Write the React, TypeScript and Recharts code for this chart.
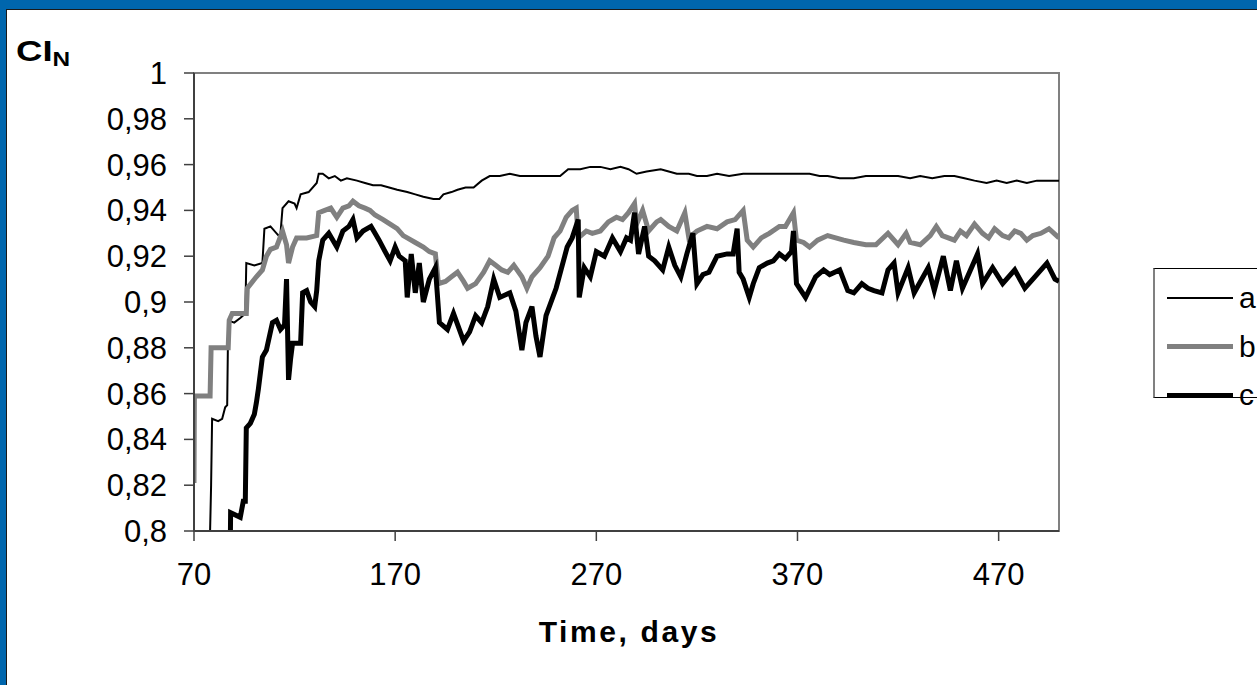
import React from 'react';
import { LineChart, Line, XAxis, YAxis, ReferenceArea } from 'recharts';

// Series a (thin black)
const aDays = [77.5, 78.5, 79, 82, 84, 85.5, 86.5, 87, 90, 93, 95.5, 96, 100, 104, 105, 108, 112, 113, 114, 117, 120, 121, 123, 127, 131, 132, 134, 137, 140, 143, 146, 151, 155, 159, 163, 167, 171, 176, 180, 184, 189, 192, 194, 198, 201, 205, 209, 213, 217, 222, 227, 232, 237, 241, 246, 252, 256, 262, 267, 272, 277, 282, 286, 290, 295, 302, 306, 310, 316, 320, 325, 330, 336, 343, 350, 355, 360, 366, 371, 376, 381, 385, 391, 398, 404, 409, 415, 420, 426, 431, 437, 443, 448, 453, 458, 464, 469, 474, 479, 484, 489, 494, 500];
const aVals = [0.78, 0.82, 0.849, 0.848, 0.849, 0.854, 0.855, 0.892, 0.891, 0.893, 0.895, 0.917, 0.916, 0.917, 0.932, 0.933, 0.929, 0.93, 0.941, 0.944, 0.943, 0.941, 0.947, 0.948, 0.952, 0.956, 0.956, 0.954, 0.955, 0.953, 0.954, 0.953, 0.952, 0.951, 0.951, 0.95, 0.949, 0.948, 0.947, 0.946, 0.945, 0.945, 0.947, 0.948, 0.949, 0.95, 0.95, 0.953, 0.955, 0.955, 0.956, 0.955, 0.955, 0.955, 0.955, 0.955, 0.958, 0.958, 0.959, 0.959, 0.958, 0.959, 0.958, 0.956, 0.957, 0.958, 0.957, 0.956, 0.956, 0.955, 0.955, 0.956, 0.955, 0.956, 0.956, 0.956, 0.956, 0.956, 0.956, 0.956, 0.955, 0.955, 0.954, 0.954, 0.955, 0.955, 0.955, 0.955, 0.954, 0.955, 0.954, 0.955, 0.955, 0.954, 0.953, 0.952, 0.953, 0.952, 0.953, 0.952, 0.953, 0.953, 0.953];

// Series b (thick grey)
const bDays = [70, 70.2, 78, 78.5, 87, 87.5, 89, 96, 96.5, 101, 104, 106, 108, 111, 114, 116, 117, 119, 121, 126, 131, 132, 135, 138, 141, 144, 147, 149, 152, 155, 157.5, 160, 164, 167.5, 171, 174, 176, 180, 184, 187, 190, 191.5, 195, 198, 201, 204, 206, 210, 214, 217, 220, 223, 226, 229, 233, 235.5, 238, 242, 246, 249, 252, 255, 258, 260, 261, 265, 268, 272, 276, 280, 283, 286, 289, 290, 293, 296, 300, 302, 306, 310, 314, 316, 320, 325, 330, 335, 339, 343, 345, 348, 352, 356, 361, 364, 368, 369.5, 373, 376, 380, 385, 389, 393, 398, 404, 409, 415, 420, 424, 426, 431, 436, 439, 442, 448, 451, 454, 458, 462, 465, 468, 472, 475, 478, 481, 484, 487, 491, 495, 500];
const bVals = [0.821, 0.859, 0.859, 0.88, 0.88, 0.892, 0.895, 0.895, 0.906, 0.911, 0.914, 0.92, 0.923, 0.924, 0.931, 0.925, 0.917, 0.924, 0.928, 0.928, 0.929, 0.939, 0.94, 0.941, 0.937, 0.941, 0.942, 0.944, 0.942, 0.941, 0.94, 0.938, 0.936, 0.934, 0.932, 0.929, 0.928, 0.926, 0.924, 0.922, 0.921, 0.908, 0.909, 0.911, 0.913, 0.909, 0.906, 0.908, 0.913, 0.918, 0.916, 0.914, 0.913, 0.916, 0.911, 0.906, 0.911, 0.915, 0.92, 0.928, 0.931, 0.937, 0.94, 0.941, 0.928, 0.931, 0.93, 0.931, 0.935, 0.937, 0.936, 0.939, 0.943, 0.934, 0.94, 0.931, 0.935, 0.936, 0.933, 0.931, 0.939, 0.928, 0.931, 0.933, 0.932, 0.935, 0.936, 0.94, 0.927, 0.924, 0.928, 0.93, 0.933, 0.933, 0.939, 0.927, 0.926, 0.924, 0.927, 0.929, 0.928, 0.927, 0.926, 0.925, 0.925, 0.93, 0.925, 0.93, 0.926, 0.925, 0.929, 0.933, 0.929, 0.927, 0.931, 0.929, 0.934, 0.93, 0.928, 0.932, 0.929, 0.928, 0.931, 0.93, 0.927, 0.929, 0.93, 0.932, 0.928];

// Series c (thick black)
const cDays = [88, 88.2, 93, 94.5, 95.5, 96, 98, 100, 101, 102, 104, 106, 109, 111, 113, 115, 116, 117, 118, 119, 123, 124, 126, 128, 130, 131, 132, 134, 137, 141, 144, 147, 149, 151, 154, 158, 160, 162, 165, 167.5, 170, 172, 175, 176, 178, 180, 182, 184, 187, 190, 192, 196, 199, 204, 207, 210, 213, 216, 219, 222, 227, 230, 233, 235, 238, 240, 242, 245, 250, 255.5, 258, 261, 261.5, 264, 267, 270, 274, 278, 282, 285, 287, 289, 291, 294, 296, 299, 303, 306, 309, 312, 315, 318, 320, 323, 326, 330, 335, 338, 340, 341, 343, 346, 348, 351, 355, 358, 361, 364, 367, 368, 369.5, 374, 379, 383, 386, 391, 395, 398, 402, 405, 408, 412, 415, 418, 420, 425, 428, 435, 438, 442.5, 446, 449, 452, 459.5, 462, 467, 472, 478, 483, 488, 494, 498, 500];
const cVals = [0.79, 0.808, 0.806, 0.813, 0.813, 0.845, 0.847, 0.851, 0.856, 0.862, 0.876, 0.879, 0.891, 0.892, 0.888, 0.89, 0.91, 0.866, 0.875, 0.882, 0.882, 0.904, 0.905, 0.9, 0.898, 0.905, 0.918, 0.927, 0.93, 0.924, 0.931, 0.933, 0.936, 0.928, 0.931, 0.933, 0.93, 0.927, 0.922, 0.918, 0.924, 0.92, 0.918, 0.902, 0.921, 0.904, 0.917, 0.9, 0.91, 0.915, 0.891, 0.888, 0.895, 0.883, 0.887, 0.894, 0.891, 0.898, 0.91, 0.902, 0.904, 0.896, 0.879, 0.891, 0.898, 0.885, 0.876, 0.894, 0.906, 0.924, 0.928, 0.936, 0.902, 0.915, 0.911, 0.922, 0.92, 0.928, 0.922, 0.928, 0.927, 0.939, 0.921, 0.933, 0.92, 0.918, 0.914, 0.924, 0.916, 0.911, 0.921, 0.93, 0.908, 0.912, 0.913, 0.92, 0.921, 0.921, 0.932, 0.913, 0.91, 0.902, 0.908, 0.915, 0.917, 0.918, 0.921, 0.919, 0.922, 0.931, 0.908, 0.902, 0.911, 0.914, 0.912, 0.914, 0.905, 0.904, 0.908, 0.906, 0.905, 0.904, 0.914, 0.917, 0.904, 0.915, 0.904, 0.915, 0.905, 0.92, 0.905, 0.918, 0.906, 0.921, 0.908, 0.915, 0.908, 0.914, 0.906, 0.911, 0.917, 0.91, 0.909];

const xTicks = [70, 170, 270, 370, 470];
const yTicks = [0.8, 0.82, 0.84, 0.86, 0.88, 0.9, 0.92, 0.94, 0.96, 0.98, 1];
const seriesNames = ['a', 'b', 'c'];

const toRows = (days: number[], vals: number[]) => days.map((d, i) => ({ day: d, v: vals[i] }));
const dataA = toRows(aDays, aVals);
const dataB = toRows(bDays, bVals);
const dataC = toRows(cDays, cVals);

const FONT = '"Liberation Sans", Arial, sans-serif';
const fmtY = (v: number) => String(Number(v.toFixed(2))).replace('.', ',');

const legendStyles = [
  { color: '#000000', width: 2 },
  { color: '#808080', width: 5 },
  { color: '#000000', width: 5 },
];

export default function App() {
  return (
    <div style={{ position: 'absolute', left: 0, top: 0, width: 1257, height: 685, background: '#0066AD', overflow: 'hidden', fontFamily: FONT }}>
      <div style={{ position: 'absolute', left: 6, top: 9, width: 1300, height: 720, background: '#fff', borderLeft: '1px solid #1a1a1a', borderTop: '1px solid #1a1a1a' }} />
      <div style={{ position: 'absolute', left: 0, top: 0 }}>
        <LineChart width={1257} height={685} margin={{ top: 73, right: 198, bottom: 94, left: 0 }}>
          <ReferenceArea x1={70} x2={500} y1={0.8} y2={1} fill="none" stroke="#808080" strokeWidth={2} ifOverflow="visible" />
          <XAxis
            dataKey="day"
            type="number"
            domain={[70, 500]}
            ticks={xTicks}
            allowDataOverflow
            height={60}
            tickSize={10}
            tickMargin={22}
            axisLine={{ stroke: '#404040', strokeWidth: 2 }}
            tickLine={{ stroke: '#404040', strokeWidth: 1.5 }}
            tick={{ fill: '#000', fontSize: 31, fontFamily: FONT }}
            interval={0}
          />
          <YAxis
            type="number"
            domain={[0.8, 1]}
            ticks={yTicks}
            allowDataOverflow
            width={194}
            tickSize={10}
            tickMargin={17}
            tickFormatter={fmtY}
            axisLine={{ stroke: '#404040', strokeWidth: 2 }}
            tickLine={{ stroke: '#404040', strokeWidth: 1.5 }}
            tick={{ fill: '#000', fontSize: 31, fontFamily: FONT }}
            interval={0}
          />
          <Line data={dataA} dataKey="v" name="a" type="linear" stroke="#000" strokeWidth={2} dot={false} isAnimationActive={false} />
          <Line data={dataB} dataKey="v" name="b" type="linear" stroke="#808080" strokeWidth={5} dot={false} isAnimationActive={false} />
          <Line data={dataC} dataKey="v" name="c" type="linear" stroke="#000" strokeWidth={5} dot={false} isAnimationActive={false} />
        </LineChart>
      </div>
      <div style={{ position: 'absolute', left: 16, top: 33, fontWeight: 'bold', fontSize: 30, color: '#000', lineHeight: '36px', whiteSpace: 'nowrap', transform: 'scaleX(1.22)', transformOrigin: 'left top' }}>
        CI<span style={{ fontSize: 20, position: 'relative', top: 5 }}>N</span>
      </div>
      <div style={{ position: 'absolute', left: 429, width: 400, top: 614, textAlign: 'center', fontWeight: 'bold', fontSize: 30, letterSpacing: 2.6, color: '#000', lineHeight: '36px' }}>
        Time, days
      </div>
      <div style={{ position: 'absolute', left: 1153, top: 268, width: 200, height: 128, background: '#fff', borderTop: '1px solid #000', borderLeft: '2px solid #808080', borderBottom: '1px solid #000' }}>
        {seriesNames.map((n, i) => (
          <div key={n} style={{ position: 'absolute', left: 12, top: 10 + i * 48.5, height: 38, display: 'flex', alignItems: 'center' }}>
            <div style={{ width: 66, height: legendStyles[i].width, background: legendStyles[i].color }} />
            <span style={{ fontSize: 30, marginLeft: 6, color: '#000', lineHeight: '38px' }}>{n}</span>
          </div>
        ))}
      </div>
    </div>
  );
}
